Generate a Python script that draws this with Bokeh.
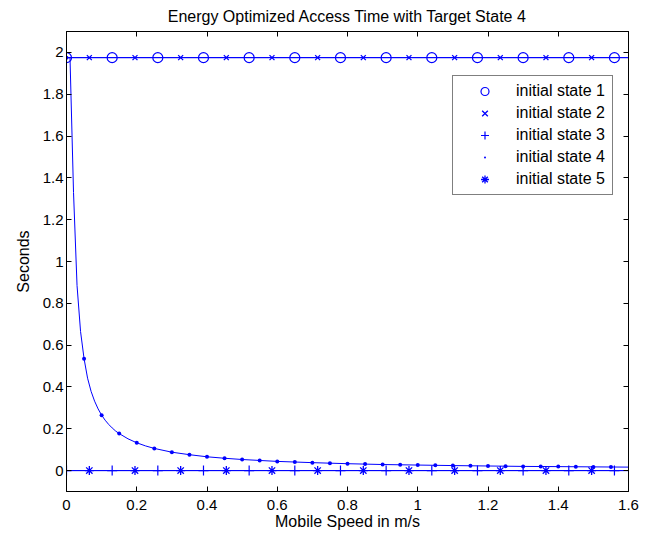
from bokeh.plotting import figure
from bokeh.models import (LinearAxis, FixedTicker, CustomJSTickFormatter, Legend,
                          LegendItem, Range1d)
from bokeh.embed import file_html
from bokeh.resources import INLINE

# ---------------- data ----------------
title_text = "Energy Optimized Access Time with Target State 4"
x_label = "Mobile Speed in m/s"
y_label = "Seconds"
series_names = ["initial state 1", "initial state 2", "initial state 3",
                "initial state 4", "initial state 5"]

speed_ticks = [0, 0.2, 0.4, 0.6, 0.8, 1.0, 1.2, 1.4, 1.6]
seconds_ticks = [0, 0.2, 0.4, 0.6, 0.8, 1.0, 1.2, 1.4, 1.6, 1.8, 2.0]

# horizontal curves (states 1, 2, 3, 5)
flat_speed = [0.0, 1.6]
state1_curve = [1.975, 1.975]
state2_curve = [1.975, 1.975]
state3_curve = [0.0, 0.0]
state5_curve = [0.0, 0.0]

# marker samples
state1_x = [0.0, 0.13, 0.26, 0.39, 0.52, 0.65, 0.78, 0.91, 1.04, 1.17, 1.30, 1.43, 1.56]
state1_y = [1.975, 1.975, 1.975, 1.975, 1.975, 1.975, 1.975, 1.975, 1.975, 1.975, 1.975, 1.975, 1.975]
state2_x = [0.065, 0.195, 0.325, 0.455, 0.585, 0.715, 0.845, 0.975, 1.105, 1.235, 1.365, 1.495]
state2_y = [1.975, 1.975, 1.975, 1.975, 1.975, 1.975, 1.975, 1.975, 1.975, 1.975, 1.975, 1.975]
state3_x = [0.0, 0.13, 0.26, 0.39, 0.52, 0.65, 0.78, 0.91, 1.04, 1.17, 1.30, 1.43, 1.56]
state3_y = [0.0, 0.0, 0.0, 0.0, 0.0, 0.0, 0.0, 0.0, 0.0, 0.0, 0.0, 0.0, 0.0]
state5_x = [0.065, 0.195, 0.325, 0.455, 0.585, 0.715, 0.845, 0.975, 1.105, 1.235, 1.365, 1.495]
state5_y = [0.0, 0.0, 0.0, 0.0, 0.0, 0.0, 0.0, 0.0, 0.0, 0.0, 0.0, 0.0]

state4_x = [0.0, 0.05, 0.10, 0.15, 0.20, 0.25, 0.30, 0.35, 0.40, 0.45, 0.50, 0.55,
            0.60, 0.65, 0.70, 0.75, 0.80, 0.85, 0.90, 0.95, 1.00, 1.05, 1.10, 1.15,
            1.20, 1.25, 1.30, 1.35, 1.40, 1.45, 1.50, 1.55]
state4_y = [1.975, 0.535, 0.265, 0.177, 0.133, 0.106, 0.088, 0.076, 0.066, 0.059, 0.053, 0.048,
            0.044, 0.041, 0.038, 0.035, 0.033, 0.031, 0.029, 0.028, 0.0265, 0.025, 0.024, 0.023,
            0.022, 0.021, 0.020, 0.0196, 0.019, 0.018, 0.0177, 0.017]

# state 4 smooth curve (read more densely near zero)
state4_curve_x = [0.0, 0.01, 0.02, 0.03, 0.04, 0.05, 0.06, 0.07, 0.08, 0.09, 0.10, 0.11,
                  0.12, 0.13, 0.14, 0.15, 0.175, 0.20, 0.225, 0.25, 0.30, 0.35, 0.40, 0.45,
                  0.50, 0.60, 0.70, 0.80, 0.90, 1.00, 1.10, 1.20, 1.30, 1.40, 1.50, 1.60]
state4_curve_y = [1.975, 1.975, 1.33, 0.885, 0.665, 0.535, 0.442, 0.379, 0.332, 0.295, 0.265, 0.241,
                  0.221, 0.204, 0.189, 0.177, 0.152, 0.133, 0.118, 0.106, 0.088, 0.076, 0.066, 0.059,
                  0.053, 0.044, 0.038, 0.033, 0.029, 0.0265, 0.024, 0.022, 0.020, 0.019, 0.0177, 0.0166]

BLUE = "#0000ff"
FONT = "Liberation Sans"

p = figure(width=661, height=535, output_backend="svg", toolbar_location=None,
           x_range=Range1d(0, 1.6), y_range=Range1d(-0.1, 2.1),
           min_border_left=66, min_border_right=33, min_border_top=31, min_border_bottom=44)
p.background_fill_color = "white"
p.border_fill_color = "white"
p.outline_line_color = "black"
p.xgrid.visible = False
p.ygrid.visible = False

p.title.text = title_text
p.title.align = "center"
p.title.vertical_align = "top"
p.title.text_font = FONT
p.title.text_font_size = "16px"
p.title.text_font_style = "normal"
p.title.text_color = "black"
p.title.standoff = 10
p.title.offset = 0

fmt = CustomJSTickFormatter(code="return String(Number(tick.toFixed(2)))")

for ax, ticks, lab in ((p.xaxis[0], speed_ticks, x_label), (p.yaxis[0], seconds_ticks, y_label)):
    ax.ticker = FixedTicker(ticks=ticks)
    ax.formatter = fmt
    ax.axis_label = lab
    ax.axis_label_text_font = FONT
    ax.axis_label_text_font_size = "16px"
    ax.axis_label_text_font_style = "normal"
    ax.axis_label_text_color = "black"
    ax.major_label_text_font = FONT
    ax.major_label_text_font_size = "15px"
    ax.major_label_text_color = "black"
    ax.major_tick_in = 5
    ax.major_tick_out = 0
    ax.minor_tick_line_color = None
    ax.axis_line_color = "black"
    ax.major_tick_line_color = "black"

p.xaxis[0].major_label_standoff = 8
p.xaxis[0].axis_label_standoff = 0
p.yaxis[0].major_label_standoff = 3
p.yaxis[0].axis_label_standoff = 8

for ticks, place in ((seconds_ticks, "right"), (speed_ticks, "above")):
    ax = LinearAxis(ticker=FixedTicker(ticks=ticks),
                    formatter=CustomJSTickFormatter(code="return ''"),
                    major_label_text_font_size="0px", major_label_standoff=0,
                    major_tick_in=5, major_tick_out=0, minor_tick_line_color=None,
                    axis_line_color="black", major_tick_line_color="black")
    p.add_layout(ax, place)

# curves
p.line(flat_speed, state1_curve, line_color=BLUE, line_width=1)
p.line(flat_speed, state2_curve, line_color=BLUE, line_width=1)
p.line(flat_speed, state3_curve, line_color=BLUE, line_width=1)
p.line(state4_curve_x, state4_curve_y, line_color=BLUE, line_width=1)
p.line(flat_speed, state5_curve, line_color=BLUE, line_width=1)

# markers
r1 = p.scatter(state1_x, state1_y, marker="circle", size=10, fill_color=None,
               line_color=BLUE, line_width=1.2)
r2 = p.scatter(state2_x, state2_y, marker="x", size=7, line_color=BLUE, line_width=1.3)
r3 = p.scatter(state3_x, state3_y, marker="cross", size=10, line_color=BLUE, line_width=1.2)
r4 = p.scatter(state4_x, state4_y, marker="dot", size=16, fill_color=BLUE, line_color=BLUE)
r5 = p.scatter(state5_x, state5_y, marker="asterisk", size=9, line_color=BLUE, line_width=1.3)

legend = Legend(items=[LegendItem(label=n, renderers=[r]) for n, r in
                       zip(series_names, [r1, r2, r3, r4, r5])],
                location=(386, 296), margin=0, padding=5, spacing=2,
                glyph_width=53, glyph_height=20, label_height=20, label_width=91,
                label_standoff=5, label_text_font=FONT, label_text_font_size="16px",
                label_text_color="black", border_line_color="black",
                border_line_width=1, background_fill_color="white",
                background_fill_alpha=1.0)
p.add_layout(legend)

open("out.html", "w").write(file_html(p, INLINE))
